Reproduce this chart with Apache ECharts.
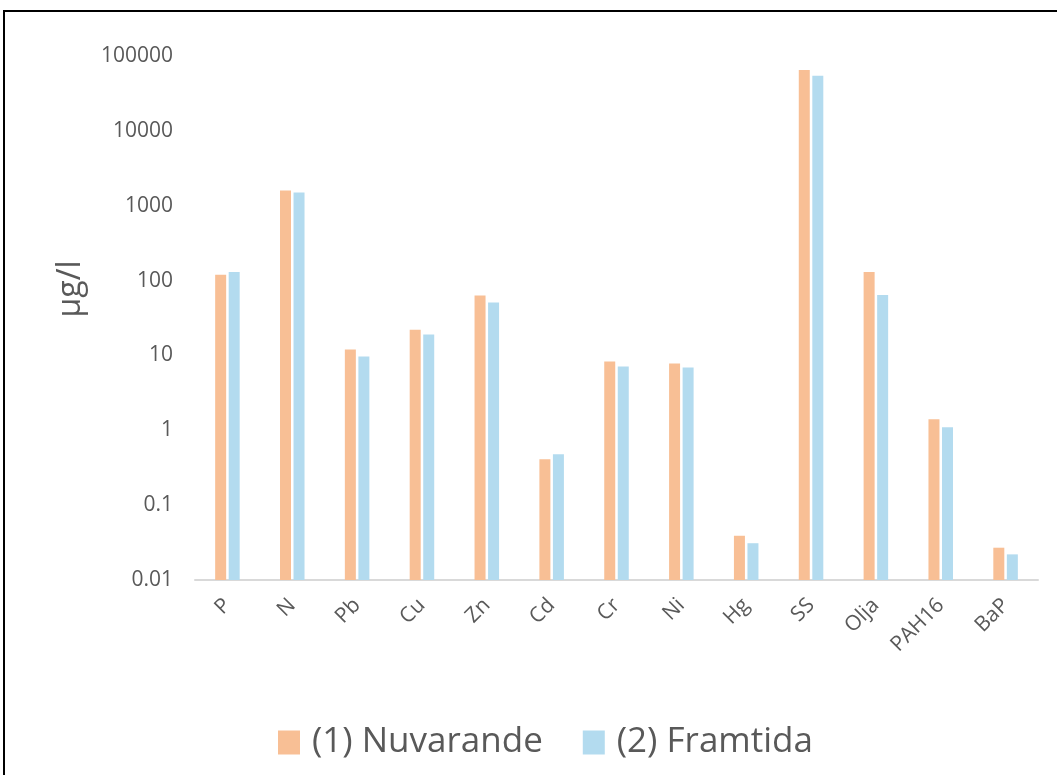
<!DOCTYPE html>
<html>
<head>
<meta charset="utf-8">
<script src="https://cdn.jsdelivr.net/npm/echarts@6/dist/echarts.min.js"></script>
<style>
html,body{margin:0;padding:0;background:#fff;}
#c{width:1057px;height:775px;}
</style>
</head>
<body>
<div id="c"></div>
<script>
var categories = ['P','N','Pb','Cu','Zn','Cd','Cr','Ni','Hg','SS','Olja','PAH16','BaP'];
var nuvarande = [120, 1600, 12, 22, 63, 0.41, 8.3, 7.8, 0.039, 65000, 130, 1.4, 0.027];
var framtida  = [130, 1500, 9.7, 19, 51, 0.48, 7.1, 6.9, 0.031, 54500, 64, 1.1, 0.022];
var yTickLabels = ['0.01','0.1','1','10','100','1000','10000','100000'];
var seriesNames = ['(1) Nuvarande', '(2) Framtida'];
var yAxisTitle = 'μg/l';

var FONT = '"Open Sans", "Noto Sans", sans-serif';
var chart = echarts.init(document.getElementById('c'));
chart.setOption({
  animation: false,
  backgroundColor: '#ffffff',
  grid: {left: 195, right: 19, top: 56, bottom: 195, containLabel: false, outerBoundsMode: 'none'},
  legend: {
    left: 273, top: 720,
    icon: 'rect', itemWidth: 22, itemHeight: 24, itemGap: 40,
    textStyle: {fontSize: 35, color: '#595959', fontFamily: FONT, padding: [0, 0, 0, 7]},
    data: seriesNames
  },
  xAxis: {
    type: 'category', data: categories,
    axisLine: {lineStyle: {color: '#D9D9D9', width: 2}},
    axisTick: {show: false},
    axisLabel: {rotate: 45, fontSize: 21, color: '#595959', fontFamily: FONT, margin: 22, interval: 0}
  },
  yAxis: {
    type: 'log', logBase: 10, min: 0.01, max: 100000, startValue: 0.01,
    axisLine: {show: false}, axisTick: {show: false}, splitLine: {show: false},
    axisLabel: {
      fontSize: 21, color: '#595959', fontFamily: FONT, margin: 22,
      formatter: function (v) { return yTickLabels[Math.round(Math.log10(v)) + 2]; }
    }
  },
  graphic: [
    {type: 'text', x: 71, y: 289, rotation: Math.PI / 2,
     style: {text: yAxisTitle, fontSize: 32, fill: '#595959', fontFamily: FONT, align: 'center', verticalAlign: 'middle'}},
    {type: 'rect', shape: {x: 4, y: 11, width: 1070, height: 790}, style: {fill: 'none', stroke: '#000', lineWidth: 2}, silent: true}
  ],
  series: [
    {name: seriesNames[0], type: 'bar', data: nuvarande, barWidth: 11, barGap: '23%',
     itemStyle: {color: '#F8BF95'}},
    {name: seriesNames[1], type: 'bar', data: framtida, barWidth: 11, barGap: '23%',
     itemStyle: {color: '#B3DBEF'}}
  ]
});
</script>
</body>
</html>
